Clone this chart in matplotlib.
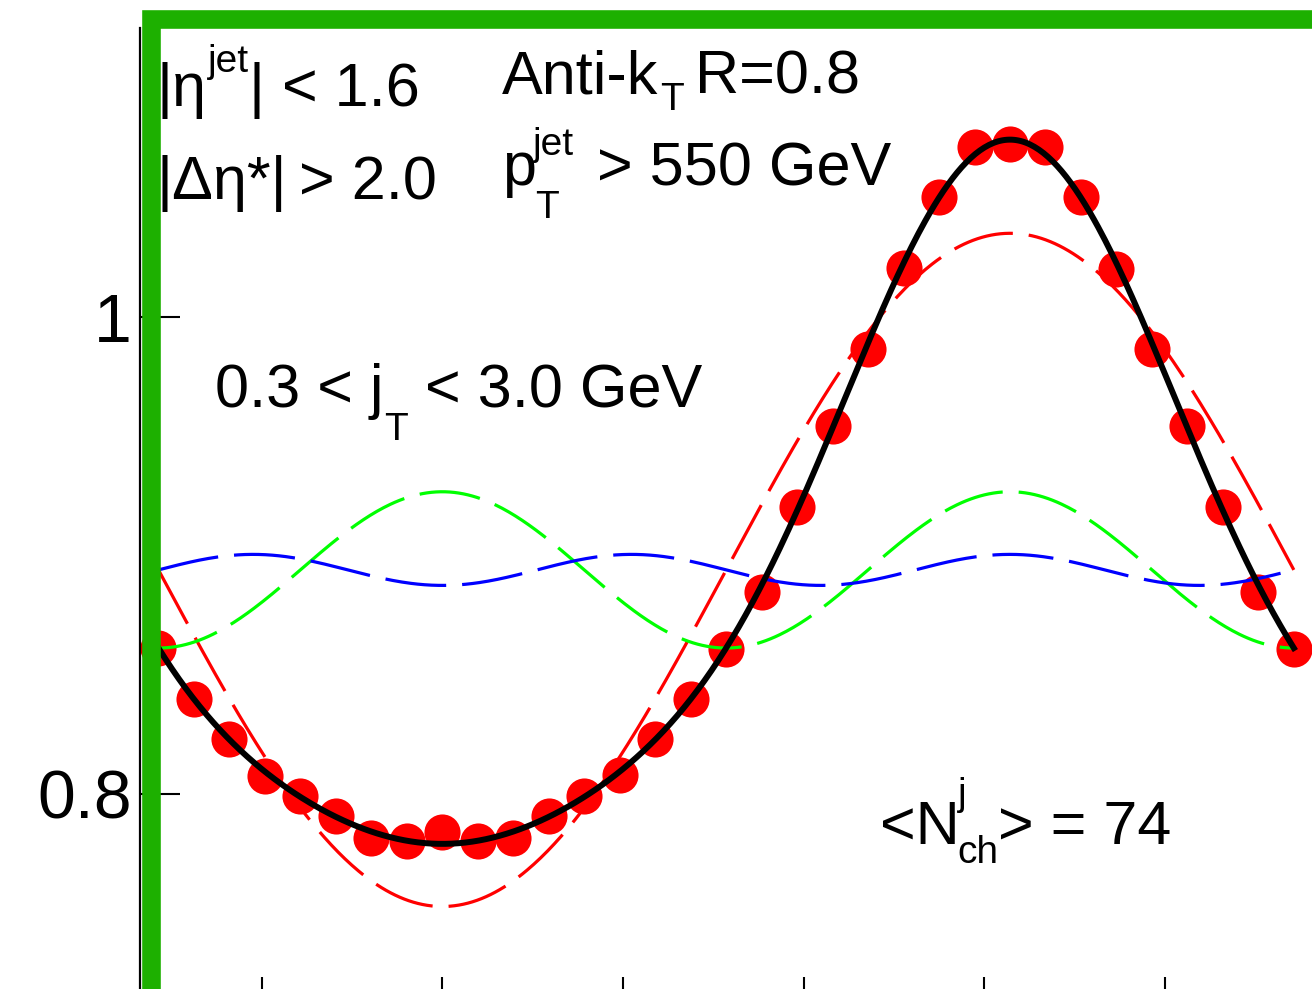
import numpy as np
import matplotlib
matplotlib.use("Agg")
import matplotlib.pyplot as plt
from matplotlib.patches import Rectangle

# Measured correlation (per-bin yields) versus delta-phi
dphi = np.linspace(-np.pi / 2, 3 * np.pi / 2, 33)
yields = [0.8612, 0.8398, 0.8230, 0.8075, 0.7991, 0.7907, 0.7815, 0.7802,
          0.7840, 0.7802, 0.7815, 0.7907, 0.7991, 0.8079, 0.8230, 0.8398,
          0.8608, 0.8847, 0.9204, 0.9544, 0.9867, 1.0207, 1.0505, 1.0714,
          1.0727, 1.0714, 1.0505, 1.0203, 0.9867, 0.9544, 0.9204, 0.8847,
          0.8608]

# Fourier fit parameters: N0 * (1 + 2 v1 cos + 2 v2 cos2 + 2 v3 cos3)
fit_norm = 0.894
fit_v1 = -0.0790
fit_v2 = 0.01834
fit_v3 = -0.00364

y_ticks = [0.8, 1.0]
y_ticklabels = ["0.8", "1"]
x_ticks = [-1, 0, 1, 2, 3, 4]

W, H = 1312, 989
FAM = ["Liberation Sans", "DejaVu Sans"]
plt.rcParams["font.family"] = FAM
plt.rcParams["lines.scale_dashes"] = False

fig = plt.figure(figsize=(W / 100, H / 100), dpi=100)

# axes placed in pixel units
px_left, px_right, px_top, px_bottom = 140, 1320, 28, 1017
ax = fig.add_axes([px_left / W, 1 - px_bottom / H,
                   (px_right - px_left) / W, (px_bottom - px_top) / H])

x0_px, x_scale = 442.3, 180.7
y1_px, y_scale = 317.3, 2383.0
ax.set_xlim((px_left - x0_px) / x_scale, (px_right - x0_px) / x_scale)
ax.set_ylim(1 - (px_bottom - y1_px) / y_scale, 1 + (y1_px - px_top) / y_scale)

phi = np.linspace(-np.pi / 2, 3 * np.pi / 2, 500)
c1 = fit_norm * (1 + 2 * fit_v1 * np.cos(phi))
c2 = fit_norm * (1 + 2 * fit_v2 * np.cos(2 * phi))
c3 = fit_norm * (1 + 2 * fit_v3 * np.cos(3 * phi))
total = fit_norm * (1 + 2 * fit_v1 * np.cos(phi) + 2 * fit_v2 * np.cos(2 * phi)
                    + 2 * fit_v3 * np.cos(3 * phi))

ax.plot(dphi, yields, "o", color="#ff0000", markersize=26, markeredgewidth=0,
        zorder=2, clip_on=False)
dash = (0, (44, 11.5))
ax.plot(phi, c1, color="#ff0000", lw=2.3, linestyle=dash, zorder=3)
ax.plot(phi, c2, color="#00ff00", lw=2.3, linestyle=dash, zorder=3)
ax.plot(phi, c3, color="#0000ff", lw=2.3, linestyle=dash, zorder=3)
ax.plot(phi, total, color="black", lw=4.3, zorder=4)

ax.set_yticks(y_ticks)
ax.set_yticklabels(y_ticklabels)
ax.set_xticks(x_ticks)
ax.set_xticklabels([])
ax.tick_params(axis="both", direction="in", length=28.5, width=1.5,
               labelsize=49, pad=6)
ax.tick_params(axis="x", bottom=True, top=False)
ax.tick_params(axis="y", left=True, right=False)
for side in ["top", "right", "bottom"]:
    ax.spines[side].set_visible(False)
ax.spines["left"].set_linewidth(1.6)

MAIN, SCRIPT = 44, 28


def ftext(xp, yp, s, size=MAIN):
    fig.text(xp / W, 1 - yp / H, s, fontsize=size, va="baseline", ha="left",
             family=FAM)


# |eta^jet| < 1.6
ftext(157, 106, "|η")
ftext(208, 72, "jet", SCRIPT)
ftext(249, 106, "| < 1.6")
# |Delta eta*| > 2.0
ftext(157, 199, "|Δη*|")
ftext(299, 199, "> 2.0")
# Anti-kT R=0.8
ftext(502, 94, "Anti-k")
ftext(660, 110, "T", SCRIPT)
ftext(695, 94, "R=0.8")
# pT^jet > 550 GeV
ftext(502, 185, "p")
ftext(533, 155, "jet", SCRIPT)
ftext(535, 218, "T", SCRIPT)
ftext(597, 185, "> 550 GeV")
# 0.3 < jT < 3.0 GeV
ftext(215, 407, "0.3 < j")
ftext(384, 440, "T", SCRIPT)
ftext(425, 407, "< 3.0 GeV")
# <N_ch^j> = 74
ftext(880, 844, "<N")
ftext(958, 805, "j", SCRIPT)
ftext(957, 863, "ch", SCRIPT)
ftext(998, 844, "> = 74")

# highlight frame around the panel
frame = Rectangle((151 / W, 1 - 997.5 / H), (1400 - 151) / W, (997.5 - 19.5) / H,
                  transform=fig.transFigure, fill=False, edgecolor="#1db000",
                  linewidth=13.4, zorder=10, clip_on=False)
fig.add_artist(frame)

fig.savefig("out.png", dpi=100)
